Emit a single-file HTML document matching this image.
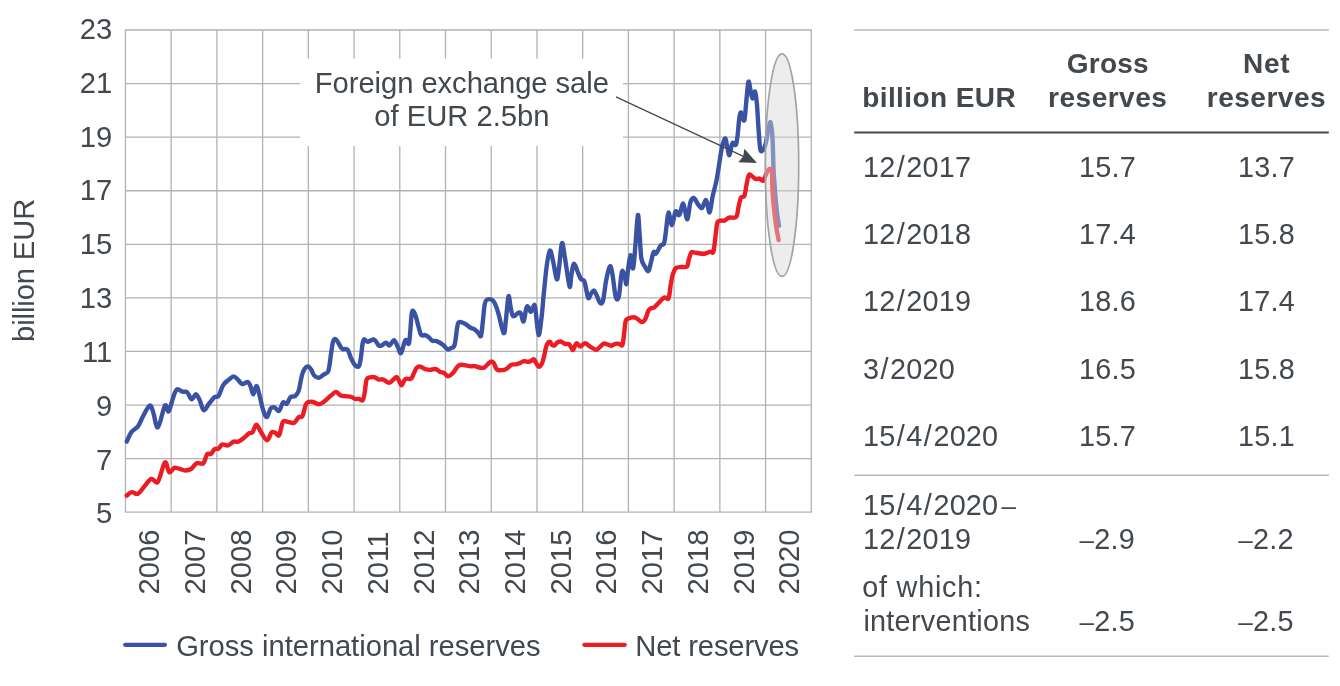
<!DOCTYPE html>
<html><head><meta charset="utf-8"><title>Reserves</title>
<style>html,body{margin:0;padding:0;background:#fff;}svg{display:block;will-change:transform;}text{font-family:"Liberation Sans",sans-serif;fill:#42484d;font-size:29.2px;}.b{font-weight:bold;font-size:28px;}</style></head><body>
<svg width="1340" height="686" viewBox="0 0 1340 686">
<rect width="1340" height="686" fill="#fff"/>
<path d="M125.45,29.35V512.85M171.17,29.35V512.85M216.90,29.35V512.85M262.62,29.35V512.85M308.34,29.35V512.85M354.07,29.35V512.85M399.79,29.35V512.85M445.51,29.35V512.85M491.24,29.35V512.85M536.96,29.35V512.85M582.68,29.35V512.85M628.41,29.35V512.85M674.13,29.35V512.85M719.85,29.35V512.85M765.58,29.35V512.85M811.30,29.35V512.85M124.80,30.00H811.95M124.80,83.58H811.95M124.80,137.16H811.95M124.80,190.73H811.95M124.80,244.31H811.95M124.80,297.89H811.95M124.80,351.47H811.95M124.80,405.04H811.95M124.80,458.62H811.95M124.80,512.20H811.95" fill="none" stroke="#b2b2b2" stroke-width="1.3"/>
<rect x="300" y="58.6" width="323" height="87.5" fill="#fff"/>
<path id="blue" d="M126.8,441.6C127.6,440.0 129.5,434.6 131.4,432.1C133.3,429.6 136.1,428.9 138.0,426.4C139.9,423.9 140.8,420.4 142.7,416.9C144.6,413.4 147.9,406.4 149.7,405.6C151.4,404.8 151.8,408.6 153.2,412.2C154.6,415.8 155.9,428.5 157.9,427.4C159.9,426.3 163.1,408.3 164.9,405.6C166.7,402.9 167.3,412.6 168.7,411.3C170.0,410.0 171.7,401.6 173.0,398.0C174.3,394.4 175.2,390.6 176.8,389.5C178.4,388.4 180.8,391.2 182.5,391.7C184.2,392.2 185.7,391.0 187.2,392.3C188.7,393.6 190.2,399.0 191.6,399.3C193.0,399.6 194.5,394.1 195.8,394.2C197.1,394.3 198.3,397.2 199.6,399.9C200.9,402.6 202.1,409.7 203.7,410.3C205.3,410.9 207.2,405.9 209.0,403.7C210.8,401.5 213.1,398.3 214.7,397.0C216.3,395.7 217.1,398.1 218.5,396.1C219.9,394.1 221.6,387.6 223.3,384.9C225.0,382.1 227.2,381.0 228.9,379.6C230.6,378.2 232.1,376.3 233.7,376.4C235.3,376.5 237.0,378.9 238.4,380.2C239.8,381.5 240.6,383.7 242.2,384.0C243.8,384.3 246.5,381.6 247.9,382.1C249.3,382.6 249.8,384.8 250.7,386.8C251.6,388.9 252.2,394.5 253.2,394.4C254.1,394.2 255.4,385.9 256.4,385.9C257.4,385.9 258.2,390.4 259.3,394.4C260.4,398.3 261.8,405.8 263.0,409.6C264.2,413.4 265.5,417.3 266.8,417.1C268.1,416.9 269.3,410.2 270.6,408.6C271.9,407.0 273.0,406.9 274.4,407.3C275.8,407.7 277.7,411.7 279.1,410.9C280.5,410.1 281.6,403.8 282.9,402.6C284.2,401.4 285.4,404.8 286.7,403.9C288.0,403.0 289.1,398.5 290.5,397.2C291.9,395.9 293.8,397.0 295.2,395.9C296.6,394.8 297.6,394.0 298.7,390.6C299.8,387.2 300.9,379.1 301.9,375.5C302.9,371.9 303.7,370.3 304.7,368.8C305.7,367.3 307.0,366.2 308.1,366.4C309.2,366.6 310.3,368.3 311.3,369.8C312.3,371.3 312.9,374.2 314.2,375.5C315.5,376.8 317.3,377.9 318.9,377.7C320.5,377.5 322.1,375.7 323.7,374.5C325.3,373.3 327.1,374.3 328.4,370.7C329.6,367.1 330.4,357.6 331.2,352.7C332.0,347.8 332.3,343.6 333.1,341.4C333.9,339.2 334.7,338.6 336.0,339.5C337.3,340.4 339.6,345.4 340.7,347.0C341.8,348.6 341.6,348.7 342.8,349.1C344.0,349.6 346.2,348.0 347.6,349.7C349.0,351.4 350.1,356.5 351.4,359.1C352.7,361.7 353.9,364.2 355.2,365.4C356.4,366.6 358.0,367.4 358.9,366.2C359.8,365.0 360.2,362.1 360.8,358.2C361.4,354.3 362.1,346.1 362.7,343.0C363.3,339.9 363.4,339.5 364.2,339.3C365.0,339.1 365.9,341.6 367.5,341.7C369.1,341.8 372.2,339.0 374.1,339.6C376.0,340.2 377.5,344.5 378.8,345.5C380.1,346.5 380.5,346.0 381.7,345.5C382.9,345.0 384.7,342.7 386.0,342.7C387.3,342.7 388.3,345.9 389.6,345.5C390.9,345.1 392.6,340.0 394.0,340.2C395.4,340.4 396.6,344.6 397.8,346.8C399.0,349.0 399.7,354.2 401.0,353.1C402.3,352.0 404.0,341.9 405.4,340.2C406.8,338.5 408.1,347.0 409.1,342.7C410.1,338.4 410.9,319.9 411.6,314.6C412.3,309.4 412.8,310.9 413.5,311.2C414.2,311.5 414.9,313.9 415.8,316.5C416.7,319.1 417.7,323.8 418.6,326.9C419.5,330.0 420.0,333.5 421.1,334.9C422.2,336.3 423.9,334.7 425.2,335.1C426.5,335.5 427.8,336.4 429.0,337.4C430.2,338.3 431.0,340.2 432.3,340.8C433.6,341.4 434.8,340.4 436.6,341.1C438.4,341.8 441.4,343.5 443.2,344.9C445.0,346.3 446.1,348.8 447.4,349.3C448.7,349.9 449.6,348.9 450.8,348.2C452.0,347.5 453.6,348.3 454.6,344.9C455.7,341.5 456.4,331.7 457.1,327.9C457.8,324.1 457.7,322.9 459.0,322.2C460.3,321.5 463.1,322.8 465.0,323.7C466.9,324.6 469.1,326.9 470.7,327.9C472.3,328.9 473.4,328.6 474.7,329.5C476.0,330.4 477.4,332.2 478.5,333.2C479.6,334.2 480.3,337.8 481.0,335.7C481.7,333.6 482.3,326.2 482.9,320.9C483.5,315.6 484.1,307.4 484.8,303.9C485.5,300.4 485.8,300.4 487.0,299.7C488.2,299.0 490.5,299.2 491.8,299.7C493.1,300.2 493.5,300.6 494.6,302.9C495.7,305.2 496.9,308.2 498.4,313.3C499.9,318.4 502.4,332.2 503.7,333.2C505.0,334.1 505.2,325.1 506.0,319.0C506.8,312.9 507.7,298.2 508.5,296.3C509.3,294.4 509.9,304.4 510.7,307.7C511.5,311.0 511.9,315.3 513.2,316.2C514.5,317.1 517.0,313.3 518.3,312.8C519.6,312.3 519.9,311.9 520.8,313.3C521.7,314.8 522.7,322.4 523.6,321.5C524.5,320.6 525.6,310.1 526.4,307.7C527.2,305.3 527.5,306.4 528.3,307.1C529.1,307.8 530.0,312.2 531.0,311.8C532.0,311.4 533.6,304.6 534.4,304.8C535.2,305.1 535.2,308.2 535.9,313.3C536.6,318.4 537.6,334.5 538.6,335.1C539.6,335.7 540.7,324.2 541.6,317.1C542.5,310.0 543.0,301.0 543.9,292.5C544.8,284.0 545.7,273.0 546.7,266.0C547.7,259.0 548.8,251.1 549.9,250.5C551.0,249.9 552.1,257.4 553.3,262.2C554.4,267.0 555.8,278.4 556.8,279.3C557.8,280.2 558.1,273.9 559.0,267.9C559.9,261.9 560.9,245.2 561.9,243.3C562.9,241.4 563.4,249.3 564.7,256.5C566.0,263.7 568.4,283.1 569.5,286.3C570.6,289.5 570.6,279.3 571.3,275.5C572.0,271.7 572.7,264.2 573.8,263.7C574.9,263.2 576.8,270.1 578.0,272.6C579.2,275.1 579.8,277.5 580.8,278.9C581.8,280.3 583.3,279.5 584.2,281.1C585.1,282.7 585.4,285.9 586.1,288.7C586.8,291.5 587.5,297.4 588.4,298.2C589.2,299.0 590.2,294.8 591.2,293.5C592.2,292.2 593.1,290.1 594.1,290.6C595.1,291.1 596.2,294.4 597.2,296.5C598.2,298.6 599.1,302.3 600.1,303.0C601.1,303.7 602.0,304.3 603.0,300.8C604.0,297.3 604.9,287.2 605.9,281.9C606.9,276.5 608.1,271.2 608.9,268.7C609.7,266.1 610.1,265.6 610.7,266.6C611.3,267.6 611.7,269.8 612.5,274.6C613.3,279.5 614.6,291.6 615.4,295.7C616.2,299.8 616.6,299.5 617.2,299.4C617.8,299.3 618.4,298.9 619.1,295.0C619.8,291.1 620.6,280.0 621.2,276.0C621.8,272.0 622.1,270.6 622.7,270.9C623.3,271.1 624.3,275.3 624.9,277.5C625.5,279.7 625.9,285.1 626.4,284.1C626.9,283.1 627.1,276.5 627.8,271.7C628.5,266.9 629.6,255.8 630.5,255.2C631.4,254.6 632.2,270.3 633.1,268.3C634.0,266.3 634.8,251.9 635.6,243.0C636.4,234.1 637.2,216.5 637.9,215.0C638.6,213.5 639.0,226.9 639.6,234.2C640.2,241.5 640.5,253.3 641.4,258.7C642.3,264.1 643.7,264.6 644.9,266.6C646.1,268.7 647.4,271.7 648.4,271.0C649.4,270.3 650.1,265.3 651.0,262.2C651.9,259.1 652.7,253.5 653.6,252.1C654.5,250.7 655.0,254.6 656.2,253.5C657.4,252.4 659.3,247.3 660.6,245.6C661.9,243.8 663.1,246.1 664.1,243.0C665.1,239.9 665.7,232.3 666.4,227.2C667.1,222.1 667.6,212.8 668.5,212.4C669.4,212.1 670.8,225.2 672.0,225.1C673.2,224.9 674.3,213.2 675.5,211.5C676.7,209.8 678.0,216.3 679.3,215.0C680.6,213.7 682.0,202.9 683.3,203.6C684.6,204.3 686.0,219.6 687.2,219.4C688.4,219.2 689.2,206.3 690.3,202.7C691.4,199.1 692.5,197.7 693.8,198.0C695.1,198.3 696.8,202.8 698.2,204.5C699.6,206.2 700.7,208.7 702.0,208.0C703.3,207.3 704.8,199.4 706.1,200.1C707.4,200.8 708.5,212.9 709.6,212.4C710.7,211.9 711.4,202.2 712.5,197.0C713.6,191.8 715.1,187.2 716.3,181.4C717.5,175.6 718.6,167.7 719.5,162.0C720.4,156.3 721.0,151.4 721.9,147.5C722.8,143.6 724.1,138.7 725.0,138.4C725.9,138.1 726.4,142.9 727.1,145.7C727.8,148.5 728.5,155.7 729.4,155.3C730.3,154.9 731.3,144.8 732.4,143.1C733.5,141.3 735.0,146.1 735.9,144.8C736.8,143.5 737.0,139.7 737.6,135.2C738.2,130.7 738.8,121.5 739.4,117.7C740.0,113.9 740.3,112.1 741.1,112.5C741.9,112.9 743.4,122.3 744.3,120.3C745.2,118.2 745.7,106.6 746.4,100.2C747.1,93.8 747.8,83.7 748.5,81.9C749.2,80.2 749.7,86.9 750.4,89.7C751.1,92.5 751.7,98.2 752.5,98.5C753.3,98.8 754.4,90.6 755.1,91.5C755.8,92.4 756.3,97.3 756.9,103.7C757.5,110.1 758.0,122.4 758.6,130.0C759.2,137.6 759.6,145.8 760.3,149.2C761.0,152.5 762.1,151.0 763.0,150.1C763.9,149.2 764.7,147.3 765.6,144.0C766.5,140.7 767.4,133.7 768.2,130.0C769.0,126.3 769.8,121.5 770.5,122.1C771.2,122.7 771.8,128.7 772.2,133.5C772.6,138.3 772.8,144.4 773.0,151.0C773.2,157.6 773.4,167.1 773.7,173.0C774.0,178.9 774.4,181.8 774.7,186.2C775.0,190.6 775.3,195.0 775.7,199.4C776.1,203.8 776.5,208.1 777.0,212.5C777.5,216.9 778.7,223.6 779.0,225.8" fill="none" stroke="#3a52a4" stroke-width="4.4" stroke-linejoin="round" stroke-linecap="round"/>
<path id="red" d="M126.8,495.6C127.6,495.0 129.8,492.4 131.7,492.1C133.6,491.8 135.8,494.7 138.0,493.7C140.2,492.7 142.4,488.6 144.6,486.1C146.8,483.6 149.1,479.6 151.3,478.9C153.5,478.2 155.6,484.4 157.9,481.7C160.2,478.9 163.0,464.0 164.9,462.4C166.8,460.8 167.6,471.4 169.3,472.3C171.0,473.2 172.4,468.0 174.9,467.7C177.4,467.4 181.7,470.2 184.4,470.4C187.1,470.6 188.9,470.2 191.0,469.0C193.1,467.8 194.6,464.2 196.7,463.3C198.8,462.4 201.6,464.8 203.3,463.3C205.0,461.8 205.8,455.9 207.1,454.3C208.4,452.7 209.6,454.8 210.9,453.9C212.2,453.0 213.4,450.0 214.7,449.1C216.0,448.2 217.2,449.4 218.5,448.6C219.8,447.8 220.7,444.9 222.3,444.4C223.9,443.9 226.1,445.9 228.0,445.4C229.9,444.9 232.0,442.2 233.7,441.6C235.4,441.0 236.7,442.2 238.4,441.6C240.1,441.0 242.4,439.2 244.1,437.8C245.8,436.4 247.4,434.3 248.8,433.4C250.2,432.4 251.3,433.6 252.6,432.1C253.9,430.6 255.0,424.6 256.4,424.6C257.8,424.6 259.3,429.7 261.1,432.3C262.9,434.9 265.4,440.2 267.2,440.2C268.9,440.2 270.2,433.5 271.6,432.3C273.0,431.1 274.1,432.4 275.4,432.9C276.6,433.4 277.9,436.9 279.1,435.1C280.4,433.3 281.5,424.1 282.9,421.9C284.3,419.7 285.8,421.8 287.7,421.9C289.6,422.0 292.5,423.6 294.3,422.8C296.1,422.0 297.4,418.2 298.7,417.1C300.0,416.0 301.2,418.2 302.4,416.2C303.6,414.1 304.7,407.2 305.7,404.8C306.7,402.4 307.2,402.5 308.5,402.0C309.8,401.5 311.5,401.6 313.2,402.0C314.9,402.4 317.1,404.3 318.9,404.3C320.6,404.3 321.6,403.5 323.7,402.0C325.8,400.5 329.1,397.1 331.2,395.4C333.2,393.7 334.4,391.9 336.0,391.9C337.6,391.9 339.1,394.7 340.7,395.4C342.3,396.1 343.9,395.8 345.7,396.1C347.5,396.4 349.8,396.5 351.4,397.0C353.0,397.5 353.9,398.6 355.2,398.9C356.4,399.2 357.6,398.7 358.9,398.9C360.1,399.1 361.8,401.2 362.7,400.3C363.6,399.4 364.0,396.6 364.6,393.2C365.2,389.8 365.7,382.6 366.5,380.0C367.3,377.4 368.1,378.0 369.4,377.5C370.7,377.0 372.5,376.8 374.1,377.1C375.7,377.5 377.4,379.2 378.8,379.6C380.2,380.0 380.9,378.9 382.6,379.4C384.4,379.9 387.4,382.9 389.3,382.8C391.2,382.7 392.8,379.9 394.0,379.0C395.2,378.1 395.9,376.8 396.8,377.1C397.7,377.4 398.3,379.5 399.1,380.9C399.9,382.3 400.6,385.6 401.6,385.3C402.7,385.0 403.8,380.1 405.4,379.0C407.0,377.9 409.6,379.6 411.0,378.7C412.4,377.8 412.9,375.1 413.9,373.3C414.8,371.5 415.6,368.8 416.7,367.7C417.8,366.6 419.1,366.4 420.5,366.7C421.9,366.9 423.6,368.7 425.2,369.2C426.8,369.7 428.2,369.9 430.0,369.9C431.8,369.9 434.0,368.6 435.7,369.0C437.4,369.4 439.0,371.4 440.4,372.0C441.8,372.6 442.5,372.1 443.8,372.8C445.1,373.5 446.5,376.1 448.0,376.2C449.5,376.3 451.1,374.9 452.7,373.3C454.3,371.7 456.0,368.1 457.4,366.7C458.8,365.3 459.0,364.9 461.2,364.8C463.4,364.7 468.4,366.1 470.7,366.3C472.9,366.5 473.1,365.9 474.7,366.1C476.3,366.4 478.9,367.6 480.5,367.8C482.1,368.0 483.2,368.1 484.6,367.3C486.0,366.5 487.5,364.2 488.7,363.2C489.9,362.2 490.7,361.4 491.6,361.4C492.5,361.4 493.1,362.0 493.9,363.2C494.7,364.4 495.5,367.6 496.3,368.8C497.1,370.0 497.2,370.1 498.6,370.2C500.1,370.3 503.4,370.0 505.0,369.6C506.6,369.2 506.8,368.6 507.9,367.8C509.0,367.0 510.0,365.3 511.4,364.7C512.8,364.1 514.6,364.6 516.1,364.3C517.6,364.0 518.9,363.4 520.2,362.9C521.5,362.4 522.5,361.3 523.7,361.1C524.9,360.9 526.0,361.8 527.2,361.8C528.4,361.8 529.6,361.5 530.7,361.1C531.8,360.7 533.0,359.1 533.9,359.3C534.8,359.6 535.1,361.4 535.9,362.6C536.7,363.8 537.8,366.5 538.8,366.7C539.8,366.9 540.9,365.6 541.8,363.8C542.7,362.1 543.4,358.8 544.1,356.2C544.8,353.6 545.2,350.1 545.8,348.0C546.4,345.9 546.9,344.3 547.6,343.3C548.3,342.3 549.1,341.6 549.9,341.9C550.7,342.2 551.5,344.5 552.3,345.1C553.1,345.7 553.7,345.9 554.6,345.4C555.5,344.9 556.4,342.8 557.5,342.2C558.6,341.6 559.7,341.3 561.0,341.6C562.3,341.9 563.7,343.4 565.1,343.9C566.5,344.3 567.9,343.3 569.2,344.3C570.5,345.3 571.7,349.9 572.7,350.1C573.7,350.3 574.3,346.9 575.0,345.7C575.7,344.5 575.9,343.0 576.8,343.1C577.7,343.2 578.9,346.6 580.3,346.6C581.6,346.6 583.2,343.3 584.9,343.3C586.5,343.3 588.4,345.5 590.2,346.6C592.1,347.7 594.5,349.7 596.0,349.8C597.5,349.9 598.1,348.5 599.4,347.5C600.7,346.5 602.4,344.1 603.7,343.6C605.0,343.1 606.2,344.0 607.4,344.3C608.6,344.6 609.7,345.8 611.0,345.7C612.3,345.6 614.0,344.1 615.4,343.8C616.8,343.5 617.9,343.6 619.1,343.8C620.3,344.0 621.5,346.7 622.4,344.9C623.2,343.1 623.7,336.8 624.2,332.9C624.7,328.9 625.0,323.5 625.6,321.2C626.2,318.9 626.5,319.5 627.8,318.8C629.1,318.1 632.0,317.2 633.6,317.2C635.2,317.2 635.9,318.0 637.3,318.8C638.6,319.6 640.4,321.9 641.7,322.0C643.0,322.1 644.2,320.9 645.3,319.1C646.4,317.3 647.4,312.8 648.2,311.0C649.1,309.2 649.4,309.2 650.4,308.6C651.4,308.0 652.6,308.4 654.1,307.4C655.6,306.3 657.5,303.9 659.2,302.3C660.9,300.7 662.7,298.3 664.3,297.6C665.9,296.9 667.5,300.4 668.6,298.2C669.7,295.9 670.1,288.2 670.8,284.1C671.5,280.1 672.1,276.6 673.0,273.9C673.9,271.2 674.6,269.1 675.9,268.0C677.2,266.9 679.2,267.2 681.0,267.0C682.8,266.8 685.6,267.7 686.9,266.6C688.2,265.5 687.9,262.8 688.6,260.5C689.3,258.2 690.2,253.9 691.2,252.6C692.2,251.3 693.2,252.4 694.7,252.6C696.2,252.8 698.2,253.3 700.0,253.5C701.8,253.7 703.5,253.8 705.2,253.5C706.9,253.2 709.0,252.0 710.4,251.7C711.8,251.3 712.6,254.6 713.5,251.4C714.4,248.2 715.2,237.6 715.9,232.7C716.6,227.8 716.6,224.2 717.5,222.2C718.4,220.2 719.8,220.9 721.0,220.6C722.2,220.3 723.1,221.1 724.5,220.6C725.9,220.1 727.2,218.2 729.2,217.6C731.2,217.0 734.7,218.7 736.2,216.9C737.8,215.1 737.7,210.2 738.5,207.0C739.3,203.8 739.9,199.6 740.9,197.7C741.9,195.8 743.4,198.1 744.4,195.8C745.4,193.5 745.9,187.2 746.7,183.7C747.5,180.2 748.0,176.0 749.0,174.8C750.0,173.6 751.3,176.0 752.5,176.7C753.7,177.4 754.8,178.7 756.0,179.0C757.2,179.3 758.3,178.3 759.5,178.6C760.7,178.9 762.1,181.2 763.0,180.9C763.9,180.6 764.2,178.6 765.0,177.0C765.8,175.4 766.6,172.5 767.5,171.2C768.4,169.8 769.8,168.5 770.5,168.9C771.2,169.3 771.7,170.6 772.0,173.5C772.3,176.4 772.1,181.9 772.3,186.2C772.5,190.5 772.8,195.0 773.1,199.4C773.5,203.8 773.9,208.1 774.4,212.5C774.9,216.9 775.3,221.0 776.0,225.6C776.7,230.2 778.2,237.6 778.6,240.0" fill="none" stroke="#ec1c24" stroke-width="4.4" stroke-linejoin="round" stroke-linecap="round"/>
<text id="an1" style="letter-spacing:-0.06px;" x="314.80" y="92.50">Foreign exchange sale</text>
<text id="an2" style="letter-spacing:0.00px;" x="374.30" y="125.90">of EUR 2.5bn</text>
<path d="M616.0,96.9L744,156.6" stroke="#42484d" stroke-width="1.25" fill="none"/>
<path d="M757.0,162.9L744.4,148.8L743.2,156.6L738.3,162.3Z" fill="#42484d"/>
<ellipse cx="782.0" cy="165.1" rx="16.7" ry="111.3" fill="#d8d8d8" fill-opacity="0.47" stroke="#a0a4a6" stroke-width="1.7"/>
<text id="yl0" style="letter-spacing:0.00px;font-size:29.2px;" text-anchor="end" x="112.20" y="39.00">23</text>
<text id="yl1" style="letter-spacing:0.00px;font-size:29.2px;" text-anchor="end" x="112.20" y="92.83">21</text>
<text id="yl2" style="letter-spacing:0.00px;font-size:29.2px;" text-anchor="end" x="112.20" y="146.66">19</text>
<text id="yl3" style="letter-spacing:0.00px;font-size:29.2px;" text-anchor="end" x="112.20" y="200.48">17</text>
<text id="yl4" style="letter-spacing:0.00px;font-size:29.2px;" text-anchor="end" x="112.20" y="254.31">15</text>
<text id="yl5" style="letter-spacing:0.00px;font-size:29.2px;" text-anchor="end" x="112.20" y="308.14">13</text>
<text id="yl6" style="letter-spacing:0.00px;font-size:29.2px;" text-anchor="end" x="112.20" y="361.97">11</text>
<text id="yl7" style="letter-spacing:0.00px;font-size:29.2px;" text-anchor="end" x="112.20" y="415.79">9</text>
<text id="yl8" style="letter-spacing:0.00px;font-size:29.2px;" text-anchor="end" x="112.20" y="469.62">7</text>
<text id="yl9" style="letter-spacing:0.00px;font-size:29.2px;" text-anchor="end" x="112.20" y="523.45">5</text>
<text id="yt" style="letter-spacing:-0.12px;" text-anchor="middle" transform="translate(33.80,270.40) rotate(-90)">billion EUR</text>
<text id="xl0" style="letter-spacing:0.00px;font-size:29.2px;" transform="translate(159.21,594.40) rotate(-90)">2006</text>
<text id="xl1" style="letter-spacing:0.00px;font-size:29.2px;" transform="translate(204.94,594.40) rotate(-90)">2007</text>
<text id="xl2" style="letter-spacing:0.00px;font-size:29.2px;" transform="translate(250.66,594.40) rotate(-90)">2008</text>
<text id="xl3" style="letter-spacing:0.00px;font-size:29.2px;" transform="translate(296.38,594.40) rotate(-90)">2009</text>
<text id="xl4" style="letter-spacing:0.00px;font-size:29.2px;" transform="translate(342.10,594.40) rotate(-90)">2010</text>
<text id="xl5" style="letter-spacing:0.00px;font-size:29.2px;" transform="translate(387.83,594.40) rotate(-90)">2011</text>
<text id="xl6" style="letter-spacing:0.00px;font-size:29.2px;" transform="translate(433.55,594.40) rotate(-90)">2012</text>
<text id="xl7" style="letter-spacing:0.00px;font-size:29.2px;" transform="translate(479.27,594.40) rotate(-90)">2013</text>
<text id="xl8" style="letter-spacing:0.00px;font-size:29.2px;" transform="translate(525.00,594.40) rotate(-90)">2014</text>
<text id="xl9" style="letter-spacing:0.00px;font-size:29.2px;" transform="translate(570.72,594.40) rotate(-90)">2015</text>
<text id="xl10" style="letter-spacing:0.00px;font-size:29.2px;" transform="translate(616.44,594.40) rotate(-90)">2016</text>
<text id="xl11" style="letter-spacing:0.00px;font-size:29.2px;" transform="translate(662.17,594.40) rotate(-90)">2017</text>
<text id="xl12" style="letter-spacing:0.00px;font-size:29.2px;" transform="translate(707.89,594.40) rotate(-90)">2018</text>
<text id="xl13" style="letter-spacing:0.00px;font-size:29.2px;" transform="translate(753.62,594.40) rotate(-90)">2019</text>
<text id="xl14" style="letter-spacing:0.00px;font-size:29.2px;" transform="translate(799.34,594.40) rotate(-90)">2020</text>
<path d="M125.2,644.8H164.9" stroke="#3a52a4" stroke-width="4.3" stroke-linecap="round"/>
<text id="lg1" style="letter-spacing:-0.02px;" x="176.20" y="655.70">Gross international reserves</text>
<path d="M584.4,644.8H624.7" stroke="#ec1c24" stroke-width="4.3" stroke-linecap="round"/>
<text id="lg2" style="letter-spacing:-0.15px;" x="635.30" y="655.70">Net reserves</text>
<path d="M854.2,30H1328.8" stroke="#b8b8b8" stroke-width="1.4"/>
<path d="M854.2,132.4H1328.8" stroke="#454b50" stroke-width="2"/>
<path d="M854.2,475.3H1328.8" stroke="#b8b8b8" stroke-width="1.4"/>
<path d="M854.2,656.3H1328.8" stroke="#b8b8b8" stroke-width="1.4"/>
<text id="h1" class="b" style="letter-spacing:0.42px;" x="862.20" y="106.80">billion EUR</text>
<text id="h2a" class="b" style="letter-spacing:0.24px;" x="1066.80" y="72.80">Gross</text>
<text id="h2b" class="b" style="letter-spacing:0.50px;" x="1048.10" y="106.80">reserves</text>
<text id="h3a" class="b" style="letter-spacing:0.70px;" x="1243.00" y="72.80">Net</text>
<text id="h3b" class="b" style="letter-spacing:0.50px;" x="1206.80" y="106.80">reserves</text>
<text id="r0a" style="letter-spacing:0.22px;font-size:28.8px;" x="863.00" y="176.90">12<tspan dx="1.30">/</tspan><tspan dx="1.30">2017</tspan></text>
<text id="r0b" style="letter-spacing:0.22px;font-size:28.8px;" x="1079.00" y="176.90">15.7</text>
<text id="r0c" style="letter-spacing:0.22px;font-size:28.8px;" x="1238.00" y="176.90">13.7</text>
<text id="r1a" style="letter-spacing:0.22px;font-size:28.8px;" x="863.00" y="243.90">12<tspan dx="1.30">/</tspan><tspan dx="1.30">2018</tspan></text>
<text id="r1b" style="letter-spacing:0.22px;font-size:28.8px;" x="1079.00" y="243.90">17.4</text>
<text id="r1c" style="letter-spacing:0.22px;font-size:28.8px;" x="1238.00" y="243.90">15.8</text>
<text id="r2a" style="letter-spacing:0.22px;font-size:28.8px;" x="863.00" y="311.00">12<tspan dx="1.30">/</tspan><tspan dx="1.30">2019</tspan></text>
<text id="r2b" style="letter-spacing:0.22px;font-size:28.8px;" x="1079.00" y="311.00">18.6</text>
<text id="r2c" style="letter-spacing:0.22px;font-size:28.8px;" x="1238.00" y="311.00">17.4</text>
<text id="r3a" style="letter-spacing:0.22px;font-size:28.8px;" x="863.00" y="378.80">3<tspan dx="1.30">/</tspan><tspan dx="1.30">2020</tspan></text>
<text id="r3b" style="letter-spacing:0.22px;font-size:28.8px;" x="1079.00" y="378.80">16.5</text>
<text id="r3c" style="letter-spacing:0.22px;font-size:28.8px;" x="1238.00" y="378.80">15.8</text>
<text id="r4a" style="letter-spacing:0.22px;font-size:28.8px;" x="863.00" y="446.40">15<tspan dx="1.30">/</tspan><tspan dx="1.30">4</tspan><tspan dx="1.30">/</tspan><tspan dx="1.30">2020</tspan></text>
<text id="r4b" style="letter-spacing:0.22px;font-size:28.8px;" x="1079.00" y="446.40">15.7</text>
<text id="r4c" style="letter-spacing:0.22px;font-size:28.8px;" x="1238.00" y="446.40">15.1</text>
<text id="d1" style="letter-spacing:0.22px;font-size:28.8px;" x="863.00" y="514.80">15<tspan dx="1.30">/</tspan><tspan dx="1.30">4</tspan><tspan dx="1.30">/</tspan><tspan dx="1.30">2020</tspan><tspan dx="3.2" style="font-size:26px">–</tspan></text>
<text id="d2" style="letter-spacing:0.22px;font-size:28.8px;" x="863.00" y="548.80">12<tspan dx="1.30">/</tspan><tspan dx="1.30">2019</tspan></text>
<text id="d2b" style="letter-spacing:0.22px;font-size:28.8px;" x="1079.50" y="548.80"><tspan style="font-size:26px">–</tspan>2.9</text>
<text id="d2c" style="letter-spacing:0.22px;font-size:28.8px;" x="1238.30" y="548.80"><tspan style="font-size:26px">–</tspan>2.2</text>
<text id="e1" style="letter-spacing:0.76px;font-size:28.8px;" x="862.30" y="596.80">of which:</text>
<text id="e2" style="letter-spacing:0.27px;font-size:28.8px;" x="863.40" y="630.80">interventions</text>
<text id="e2b" style="letter-spacing:0.22px;font-size:28.8px;" x="1079.50" y="630.80"><tspan style="font-size:26px">–</tspan>2.5</text>
<text id="e2c" style="letter-spacing:0.22px;font-size:28.8px;" x="1238.30" y="630.80"><tspan style="font-size:26px">–</tspan>2.5</text>
</svg></body></html>
